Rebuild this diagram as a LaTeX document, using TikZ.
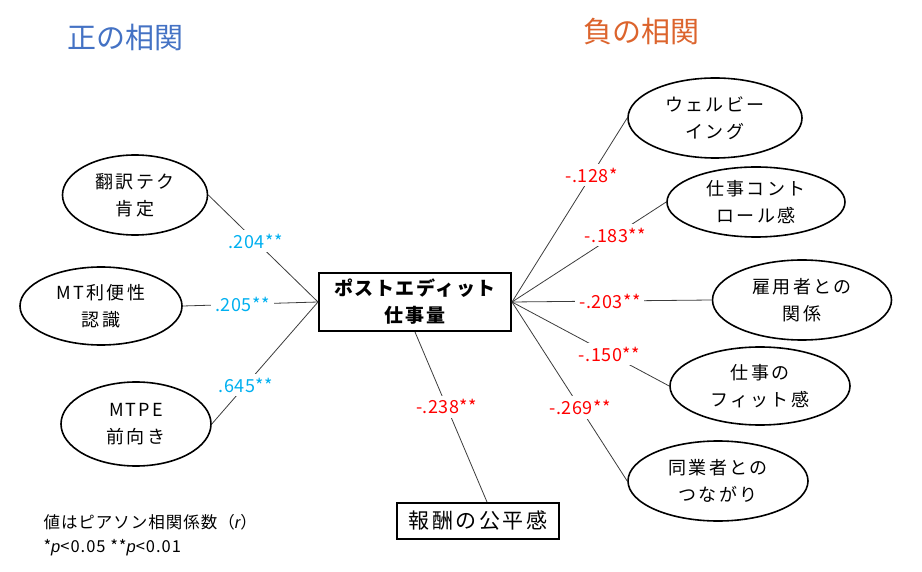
\documentclass[tikz,border=0pt]{standalone}
\usepackage{fontspec}
\setmainfont{Noto Sans CJK JP}
\newfontfamily\ellfont{Noto Sans CJK JP}[LetterSpace=12]
\newfontfamily\boxfont{Noto Sans CJK JP}[LetterSpace=8]
\newfontfamily\subfont{Noto Sans CJK JP}[LetterSpace=12]
\newfontfamily\notefont{Noto Sans CJK JP}[LetterSpace=6]
\newfontfamily\lblfont{Noto Sans CJK JP}[LetterSpace=3]
\newfontfamily\latit{Liberation Sans}
\usetikzlibrary{shapes.geometric}
\definecolor{posblue}{RGB}{68,114,196}
\definecolor{negorange}{RGB}{220,100,45}
\definecolor{lblblue}{RGB}{0,176,240}
\definecolor{lblred}{RGB}{255,0,0}
\definecolor{linegray}{RGB}{60,60,60}
\tikzset{
  ell/.style={ellipse, draw=black, line width=1.6pt, inner sep=0pt, align=center,
    font=\ellfont\fontsize{18}{27}\selectfont},
  mainbox/.style={draw=black, line width=2pt, minimum width=192pt, minimum height=58pt,
    inner sep=0pt, align=center, font=\boxfont\fontsize{19}{27}\selectfont\bfseries},
  subbox/.style={draw=black, line width=2pt, minimum width=162pt, minimum height=36pt,
    inner sep=0pt, font=\subfont\fontsize{21}{25}\selectfont},
  conn/.style={draw=linegray, line width=0.8pt},
  poslbl/.style={fill=white, text=lblblue, inner sep=4pt, font=\lblfont\fontsize{18}{20}\selectfont},
  neglbl/.style={fill=white, text=lblred, inner sep=4pt, font=\lblfont\fontsize{18}{20}\selectfont},
  title/.style={font=\fontsize{29}{32}\selectfont},
  note/.style={align=left, anchor=west, font=\notefont\fontsize{16.5}{24}\selectfont}
}
\begin{document}
\begin{tikzpicture}[x=1pt, y=-1pt]
\useasboundingbox (0,0) rectangle (922,572);
% titles
\node[title, text=posblue] (tpos) at (125,37) {正の相関};
\node[title, text=negorange] (tneg) at (641,32) {負の相関};
% center
\node[mainbox] (pe) at (415,302) {ポストエディット\\仕事量};
\node[subbox] (fair) at (478,521) {報酬の公平感};
% left ellipses
\node[ell, minimum width=145pt, minimum height=80pt] (e1) at (135,195) {翻訳テク\\肯定};
\node[ell, minimum width=162pt, minimum height=78pt] (e2) at (101,306) {MT利便性\\認識};
\node[ell, minimum width=150pt, minimum height=84pt] (e3) at (136,424) {MTPE\\前向き};
% right ellipses
\node[ell, minimum width=174pt, minimum height=80pt] (r1) at (715,118) {ウェルビー\\イング};
\node[ell, minimum width=178pt, minimum height=70pt] (r2) at (756,202) {仕事コント\\ロール感};
\node[ell, minimum width=179pt, minimum height=80pt] (r3) at (802,300) {雇用者との\\関係};
\node[ell, minimum width=180pt, minimum height=78pt] (r4) at (760,386) {仕事の\\フィット感};
\node[ell, minimum width=180pt, minimum height=80pt] (r5) at (718,481) {同業者との\\つながり};
% connectors
\draw[conn] (pe.west) -- node[pos=0.57, poslbl] (l1) {.204**} (e1.east);
\draw[conn] (pe.west) -- node[pos=0.56, poslbl] (l2) {.205**} (e2.east);
\draw[conn] (pe.west) -- node[pos=0.68, poslbl] (l3) {.645**} (e3.east);
\draw[conn] (pe.east) -- node[pos=0.69, neglbl] (m1) {-.128*} (r1.west);
\draw[conn] (pe.east) -- node[pos=0.67, neglbl] (m2) {-.183**} (r2.west);
\draw[conn] (pe.east) -- node[pos=0.49, neglbl] (m3) {-.203**} (r3.west);
\draw[conn] (pe.east) -- node[pos=0.62, neglbl] (m4) {-.150**} (r4.west);
\draw[conn] (pe.east) -- node[pos=0.59, neglbl] (m5) {-.269**} (r5.west);
\draw[conn] (pe.south) -- node[pos=0.44, neglbl] (m6) {-.238**} ([xshift=9pt]fair.north);
% note
\node[note] (nt) at (40,535) {値はピアソン相関係数（{\latit\itshape r}）\\*{\latit\itshape p}<0.05 **{\latit\itshape p}<0.01};
\end{tikzpicture}
\end{document}
